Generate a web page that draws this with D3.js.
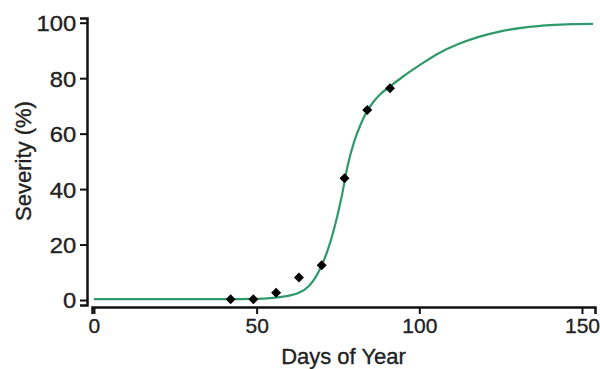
<!DOCTYPE html>
<html>
<head>
<meta charset="utf-8">
<script src="https://cdn.jsdelivr.net/npm/d3@7"></script>
<style>
  html, body { margin: 0; padding: 0; background: #fff; }
  svg { display: block; }
  text { font-family: "Liberation Sans", Arial, sans-serif; fill: #222; stroke: #222; stroke-width: 0.35px; }
</style>
</head>
<body>
<svg id="chart" width="600" height="369"></svg>
<script>
// Observed disease severity (weekly assessments)
const obsDays = [42, 49, 56, 63, 70, 77, 84, 91];
const obsSeverity = [0.25, 0.25, 2.6, 8.1, 12.5, 43.9, 68.5, 76.4];

// Fitted progress curve
const fitDays = [0, 40, 50, 55, 60, 63, 66, 68, 70, 72, 74, 76, 78, 80, 82, 84, 86, 88, 91, 95, 100, 106, 112, 118, 125, 132, 140, 147, 153.4];
const fitSeverity = [0.3, 0.3, 0.4, 0.8, 1.6, 2.6, 5.0, 8.0, 12.5, 18.5, 26.5, 36.5, 48.5, 57.2, 63.4, 68.2, 71.6, 74.2, 77.0, 80.6, 84.6, 89, 92.3, 94.8, 96.9, 98.2, 99.1, 99.5, 99.6];

const xTicks = [0, 50, 100, 150];
const yTicks = [0, 20, 40, 60, 80, 100];

const svg = d3.select("#chart");

const x = d3.scaleLinear().domain([-0.6, 154]).range([92, 595]);
const y = d3.scaleLinear().domain([-1.8, 101.7]).range([305, 18]);

const xAxisY = 307;
const yAxisX = 87;

// Axes
const gx = svg.append("g")
  .attr("transform", `translate(0,${xAxisY})`)
  .call(d3.axisBottom(x).tickValues(xTicks).tickFormat(d3.format("d")).tickSizeOuter(0).tickSize(7).tickPadding(4));

const gy = svg.append("g")
  .attr("transform", `translate(${yAxisX},0)`)
  .call(d3.axisLeft(y).tickValues(yTicks).tickFormat(d3.format("d")).tickSizeOuter(0).tickSize(7).tickPadding(3));

[gx, gy].forEach(g => {
  g.select(".domain").attr("stroke", "#111").attr("stroke-width", 2.5);
  g.selectAll(".tick line").attr("stroke", "#111").attr("stroke-width", 2);
  g.selectAll(".tick text")
    .attr("fill", "#222")
    .style("font-family", '"Liberation Sans", Arial, sans-serif')
    .style("font-size", "22px");
});
gy.selectAll(".tick text").attr("dy", "0.36em").attr("transform", "scale(1.08,1)");
gx.selectAll(".tick text").style("font-size", "21px");

// Axis titles
svg.append("text")
  .attr("x", (92 + 595) / 2)
  .attr("y", 364)
  .attr("text-anchor", "middle")
  .style("font-size", "22px")
  .text("Days of Year");

svg.append("text")
  .attr("transform", `translate(31,161) rotate(-90)`)
  .attr("text-anchor", "middle")
  .style("font-size", "22px")
  .text("Severity (%)");

// Fitted curve
const fit = fitDays.map((d, i) => [d, fitSeverity[i]]);
svg.append("path")
  .datum(fit)
  .attr("fill", "none")
  .attr("stroke", "#2e9a6c")
  .attr("stroke-width", 2.2)
  .attr("d", d3.line().x(d => x(d[0])).y(d => y(d[1])).curve(d3.curveMonotoneX));

// Observations
const obs = obsDays.map((d, i) => [d, obsSeverity[i]]);
svg.append("g").selectAll("path")
  .data(obs)
  .join("path")
  .attr("transform", d => `translate(${x(d[0])},${y(d[1])}) rotate(45)`)
  .attr("d", d3.symbol().type(d3.symbolSquare).size(50))
  .attr("fill", "#000");
</script>
</body>
</html>
